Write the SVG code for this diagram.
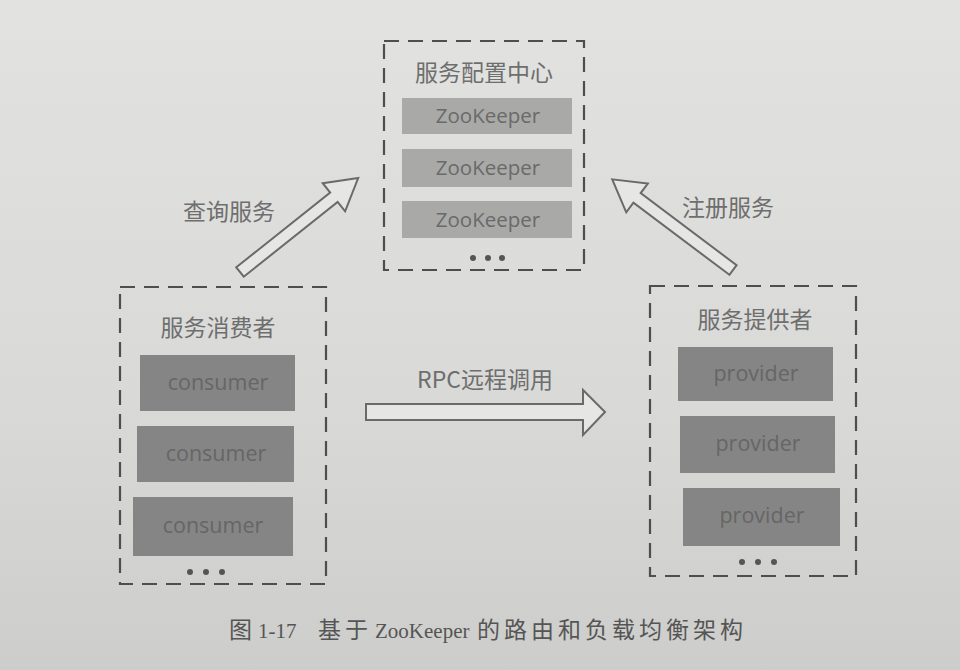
<svg xmlns="http://www.w3.org/2000/svg" width="960" height="670" viewBox="0 0 960 670">
<defs>
<linearGradient id="bg" x1="0" y1="0" x2="0" y2="1">
<stop offset="0" stop-color="#e2e2e0"/>
<stop offset="0.6" stop-color="#d9d9d7"/>
<stop offset="1" stop-color="#cdcdcb"/>
</linearGradient>
<style>
.group{fill:none;stroke:#4e4e4e;stroke-width:2.2;stroke-dasharray:15 9}
.zk{fill:#a9a9a8}
.dk{fill:#858585}
.lbl{font-family:"Open Sans","Noto Sans",sans-serif;font-size:20.5px;fill:#6a6a6a;text-anchor:middle}
.dklbl{font-family:"Open Sans","Noto Sans",sans-serif;font-size:21.5px;fill:#666;text-anchor:middle}
.title{font-family:"Noto Sans CJK SC",sans-serif;font-size:23px;fill:#6e6e6e;text-anchor:middle}
.dot{fill:#555}
.arrow{fill:#e6e6e4;stroke:#6a6a6a;stroke-width:2;stroke-linejoin:miter}
.alabel{font-family:"Noto Sans CJK SC",sans-serif;font-size:23px;fill:#6e6e6e;text-anchor:middle}
.caption{font-family:"Liberation Serif","Noto Sans CJK SC",serif;font-size:21px;fill:#555}
.cj{font-size:23px}
</style>
</defs>
<rect x="0" y="0" width="960" height="670" fill="url(#bg)"/>

<g id="config-center">
<rect class="group" x="384" y="41" width="200" height="229"/>
<text class="title" x="484" y="81">服务配置中心</text>
<rect class="zk" x="402" y="98" width="170" height="36"/>
<text class="lbl" x="488" y="123">ZooKeeper</text>
<rect class="zk" x="402" y="149" width="170" height="38"/>
<text class="lbl" x="488" y="175">ZooKeeper</text>
<rect class="zk" x="402" y="201" width="170" height="37"/>
<text class="lbl" x="488" y="227">ZooKeeper</text>
<circle class="dot" cx="473" cy="258" r="3"/>
<circle class="dot" cx="488" cy="258" r="3"/>
<circle class="dot" cx="502" cy="258" r="3"/>
</g>

<g id="consumers">
<rect class="group" x="120" y="287" width="206" height="297"/>
<text class="title" x="218" y="336">服务消费者</text>
<rect class="dk" x="140" y="355" width="155" height="56"/>
<text class="dklbl" x="218" y="390">consumer</text>
<rect class="dk" x="137" y="426" width="157" height="56"/>
<text class="dklbl" x="216" y="461">consumer</text>
<rect class="dk" x="133" y="497" width="160" height="59"/>
<text class="dklbl" x="213" y="533">consumer</text>
<circle class="dot" cx="190" cy="572" r="3"/>
<circle class="dot" cx="206" cy="572" r="3"/>
<circle class="dot" cx="222" cy="572" r="3"/>
</g>

<g id="providers">
<rect class="group" x="650" y="286" width="206" height="290"/>
<text class="title" x="755" y="328">服务提供者</text>
<rect class="dk" x="678" y="347" width="155" height="54"/>
<text class="dklbl" x="756" y="381">provider</text>
<rect class="dk" x="680" y="416" width="155" height="57"/>
<text class="dklbl" x="758" y="451">provider</text>
<rect class="dk" x="683" y="488" width="157" height="58"/>
<text class="dklbl" x="762" y="523">provider</text>
<circle class="dot" cx="742" cy="562" r="3"/>
<circle class="dot" cx="758" cy="562" r="3"/>
<circle class="dot" cx="774" cy="562" r="3"/>
</g>

<g id="connectors">
<path class="arrow" transform="translate(240,272) rotate(-38.5)" d="M0,-6 L120,-6 L120,-18 L151,0 L120,18 L120,6 L0,6 Z"/>
<text class="alabel" x="229" y="220">查询服务</text>
<path class="arrow" transform="translate(733,270) rotate(-143.1)" d="M0,-6 L120,-6 L120,-18 L151,0 L120,18 L120,6 L0,6 Z"/>
<text class="alabel" x="728" y="216">注册服务</text>
<path class="arrow" d="M366,404 L583,404 L583,390 L605,412 L583,435 L583,420 L366,420 Z"/>
<text class="alabel" x="485" y="388">RPC远程调用</text>
</g>

<text class="caption" y="638"><tspan class="cj" x="229">图</tspan><tspan x="258">1-17</tspan><tspan class="cj" x="318" letter-spacing="4">基于</tspan><tspan x="375">ZooKeeper</tspan><tspan class="cj" x="477" letter-spacing="4">的路由和负载均衡架构</tspan></text>
</svg>
